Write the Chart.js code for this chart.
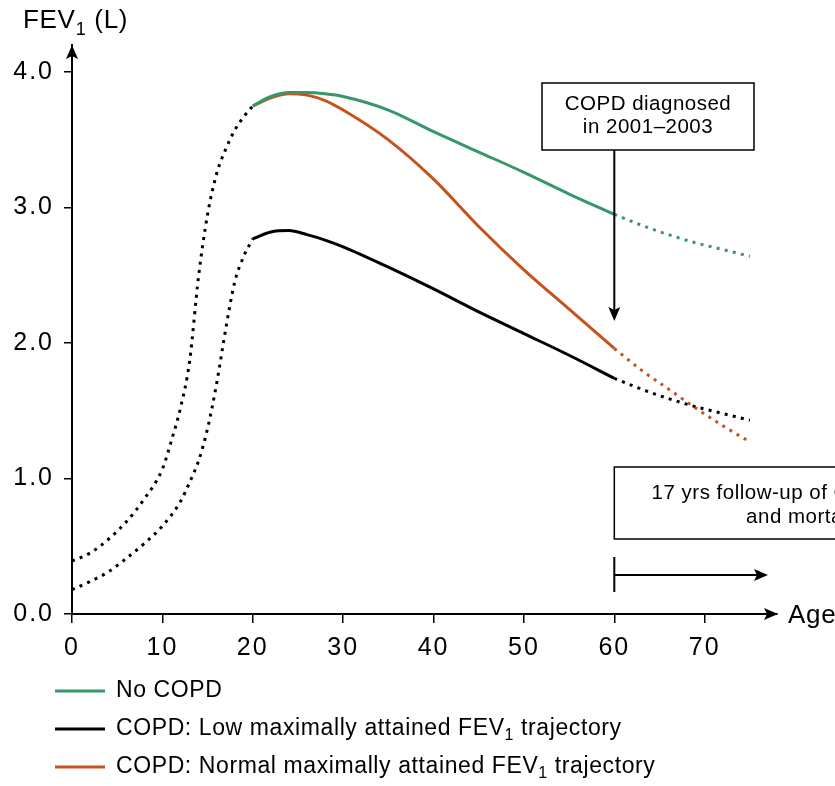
<!DOCTYPE html>
<html>
<head>
<meta charset="utf-8">
<script src="https://cdn.jsdelivr.net/npm/chart.js@4.4.1/dist/chart.umd.min.js"></script>
<style>
  html, body { margin: 0; padding: 0; background: #fff; }
  canvas { display: block; }
</style>
</head>
<body>
<canvas id="fevChart" width="835" height="786"></canvas>
<script>
// growth phase (dotted black), ages 0-20
const growthAges = [0, 2, 4, 6, 8, 10, 11, 12, 13, 14, 15, 16, 17, 18, 19, 20];
const normalGrowth = [0.39, 0.45, 0.55, 0.68, 0.85, 1.07, 1.28, 1.52, 1.86, 2.49, 2.95, 3.25, 3.43, 3.57, 3.67, 3.75];
const lowGrowthAges = [0, 2, 4, 6, 8, 10, 12, 13, 14, 15, 16, 17, 18, 19, 20];
const lowGrowth = [0.18, 0.24, 0.31, 0.41, 0.52, 0.65, 0.83, 0.97, 1.13, 1.37, 1.70, 2.10, 2.45, 2.64, 2.77];

// adult phase (solid), ages 20-60
const adultAges = [20, 22, 24, 26, 28, 30, 35, 40, 45, 50, 55, 60];
const noCopd = [3.75, 3.82, 3.85, 3.85, 3.84, 3.82, 3.72, 3.56, 3.41, 3.26, 3.10, 2.95];
const copdLow = [2.77, 2.82, 2.83, 2.80, 2.76, 2.71, 2.56, 2.40, 2.23, 2.07, 1.91, 1.74];
const copdNormal = [3.75, 3.81, 3.84, 3.83, 3.79, 3.72, 3.50, 3.21, 2.86, 2.54, 2.25, 1.96];

// follow-up phase (dotted colour), ages 60-75
const followAges = [60, 63, 66, 69, 72, 75];
const noCopdFollow = [2.95, 2.87, 2.80, 2.74, 2.69, 2.64];
const copdLowFollow = [1.74, 1.66, 1.59, 1.53, 1.48, 1.43];
const copdNormalFollow = [1.96, 1.80, 1.66, 1.52, 1.39, 1.27];

const xTicks = [0, 10, 20, 30, 40, 50, 60, 70];
const yTicks = [0, 1, 2, 3, 4];

const legendLabels = [
  [['No COPD']],
  [['COPD: Low maximally attained FEV'], ['1', true], [' trajectory']],
  [['COPD: Normal maximally attained FEV'], ['1', true], [' trajectory']]
];

const GREEN = '#37966a';
const ORANGE = '#c4531e';
const BLACK = '#000';
const FONT = '"Liberation Sans", Arial, Helvetica, sans-serif';
const DOTS = [3, 5.3];

const pts = (xs, ys) => xs.map((x, i) => ({ x, y: ys[i] }));

function line(data, color, dotted) {
  return {
    data,
    borderColor: color,
    borderWidth: 3,
    borderDash: dotted ? DOTS : [],
    pointRadius: 0,
    fill: false,
    cubicInterpolationMode: 'monotone'
  };
}

function drawParts(ctx, parts, x, y, size) {
  parts.forEach(([txt, sub]) => {
    if (sub) {
      ctx.font = Math.round(size * 0.68) + 'px ' + FONT;
      ctx.fillText(txt, x, y + size * 0.28);
    } else {
      ctx.font = size + 'px ' + FONT;
      ctx.fillText(txt, x, y);
    }
    x += ctx.measureText(txt).width;
  });
}

function arrowHead(ctx, x, y, dir) {
  ctx.beginPath();
  if (dir === 'up') {
    ctx.moveTo(x, y); ctx.lineTo(x - 6, y + 14); ctx.lineTo(x, y + 11); ctx.lineTo(x + 6, y + 14);
  } else if (dir === 'down') {
    ctx.moveTo(x, y); ctx.lineTo(x - 6, y - 14); ctx.lineTo(x, y - 11); ctx.lineTo(x + 6, y - 14);
  } else {
    ctx.moveTo(x, y); ctx.lineTo(x - 14, y - 6); ctx.lineTo(x - 11, y); ctx.lineTo(x - 14, y + 6);
  }
  ctx.closePath();
  ctx.fill();
}

// the reference face is a bit wider than Liberation Sans, so space the letters out
const spacing = {
  id: 'spacing',
  beforeDraw(chart) { chart.ctx.letterSpacing = '2px'; },
  afterDraw(chart) { chart.ctx.letterSpacing = '0px'; }
};

const decorations = {
  id: 'decorations',
  afterDraw(chart) {
    const ctx = chart.ctx;
    const xs = chart.scales.x, ys = chart.scales.y;
    const area = chart.chartArea;
    const x0 = xs.getPixelForValue(0), y0 = ys.getPixelForValue(0);
    const x60 = xs.getPixelForValue(60);
    ctx.save();
    ctx.fillStyle = '#000';
    ctx.strokeStyle = '#000';

    // axis arrows
    arrowHead(ctx, x0, area.top, 'up');
    arrowHead(ctx, area.right + 1, y0, 'right');

    // axis titles
    ctx.textAlign = 'left';
    ctx.textBaseline = 'alphabetic';
    ctx.letterSpacing = '0.7px';
    drawParts(ctx, [['FEV'], ['1', true], [' (L)']], 23, 28, 26);
    ctx.font = '26px ' + FONT;
    ctx.fillText('Age', 788, 623);

    // diagnosis box + arrow
    ctx.letterSpacing = '0.5px';
    ctx.lineWidth = 1.5;
    ctx.strokeRect(542, 83, 212, 67);
    ctx.font = '20.5px ' + FONT;
    ctx.textAlign = 'center';
    ctx.fillText('COPD diagnosed', 648, 110);
    ctx.fillText('in 2001\u20132003', 648, 133);
    ctx.lineWidth = 2;
    ctx.beginPath();
    ctx.moveTo(x60, 150);
    ctx.lineTo(x60, 310);
    ctx.stroke();
    arrowHead(ctx, x60, 321, 'down');

    // follow-up box + arrow
    ctx.lineWidth = 1.5;
    ctx.strokeRect(x60, 467, 370, 72);
    ctx.fillText('17 yrs follow-up of COPD events', 808, 499);
    ctx.fillText('and mortality', 808, 523);
    ctx.lineWidth = 2;
    ctx.beginPath();
    ctx.moveTo(x60, 557); ctx.lineTo(x60, 592);
    ctx.moveTo(x60, 575); ctx.lineTo(757, 575);
    ctx.stroke();
    arrowHead(ctx, 768, 575, 'right');

    // legend
    const legendColors = [GREEN, BLACK, ORANGE];
    const legendY = [691, 729, 767];
    ctx.letterSpacing = '0.6px';
    ctx.textAlign = 'left';
    ctx.textBaseline = 'middle';
    legendLabels.forEach((parts, i) => {
      ctx.strokeStyle = legendColors[i];
      ctx.lineWidth = 3;
      ctx.beginPath();
      ctx.moveTo(55, legendY[i]);
      ctx.lineTo(105, legendY[i]);
      ctx.stroke();
      ctx.fillStyle = '#000';
      drawParts(ctx, parts, 116, legendY[i], 23);
    });
    ctx.restore();
  }
};

const setTicks = list => scale => {
  scale.ticks = list.map(v => ({ value: v }));
};

new Chart(document.getElementById('fevChart').getContext('2d'), {
  type: 'line',
  data: {
    datasets: [
      line(pts(growthAges, normalGrowth), BLACK, true),
      line(pts(lowGrowthAges, lowGrowth), BLACK, true),
      line(pts(followAges, noCopdFollow), GREEN, true),
      line(pts(followAges, copdLowFollow), BLACK, true),
      line(pts(followAges, copdNormalFollow), ORANGE, true),
      line(pts(adultAges, copdLow), BLACK, false),
      line(pts(adultAges, noCopd), GREEN, false),
      line(pts(adultAges, copdNormal), ORANGE, false)
    ]
  },
  options: {
    responsive: false,
    animation: false,
    devicePixelRatio: 1,
    layout: { padding: { left: 0, right: 58, top: 45, bottom: 0 } },
    plugins: { legend: { display: false }, tooltip: { enabled: false } },
    scales: {
      x: {
        type: 'linear',
        min: 0,
        max: 78,
        afterBuildTicks: setTicks(xTicks),
        afterFit: s => { s.height = 172; },
        grid: { drawOnChartArea: false, tickLength: 9, color: '#000', lineWidth: 1.5 },
        border: { color: '#000', width: 2 },
        ticks: { color: '#000', padding: 10, font: { family: FONT, size: 25 } }
      },
      y: {
        type: 'linear',
        min: 0,
        max: 4.2,
        afterBuildTicks: setTicks(yTicks),
        afterFit: s => { s.width = 72; },
        grid: { drawOnChartArea: false, tickLength: 8, color: '#000', lineWidth: 1.5 },
        border: { color: '#000', width: 2 },
        ticks: {
          color: '#000',
          padding: 10,
          font: { family: FONT, size: 25 },
          callback: v => v.toFixed(1)
        }
      }
    }
  },
  plugins: [spacing, decorations]
});
</script>
</body>
</html>
